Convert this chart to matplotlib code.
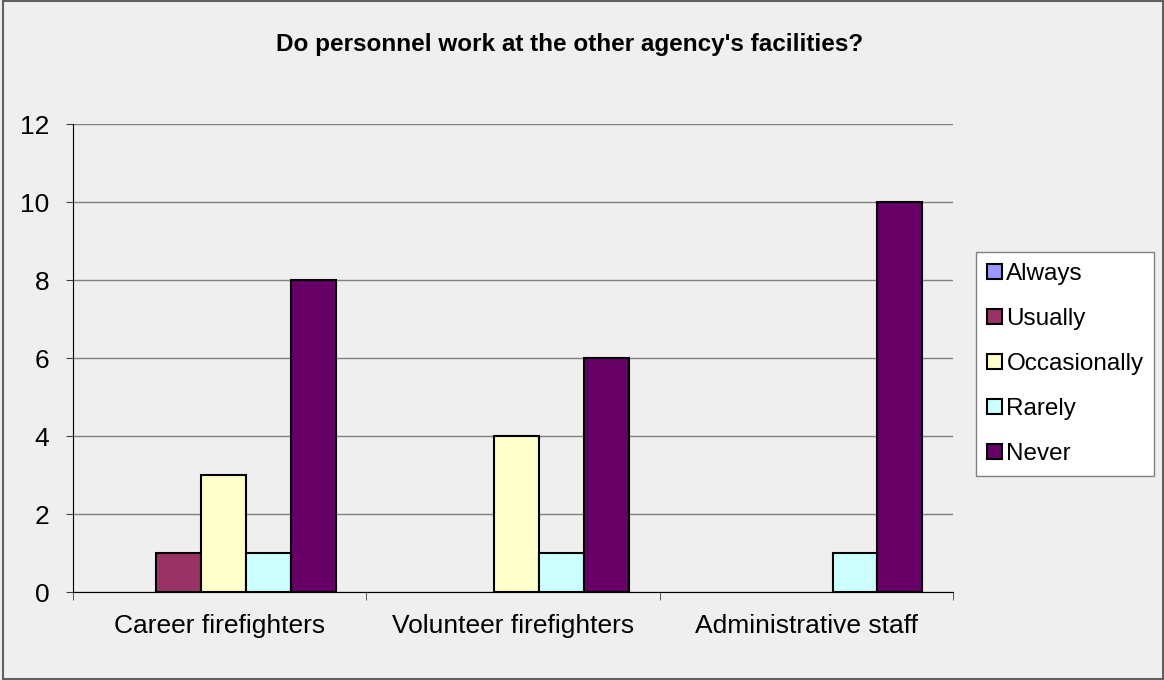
import numpy as np
import matplotlib.pyplot as plt
from matplotlib.patches import Rectangle

# Datos de la encuesta
categories = ["Career firefighters", "Volunteer firefighters", "Administrative staff"]
series = ["Always", "Usually", "Occasionally", "Rarely", "Never"]
always = [0, 0, 0]
usually = [1, 0, 0]
occasionally = [3, 4, 0]
rarely = [1, 1, 1]
never = [8, 6, 10]
colors = ["#9999FF", "#993366", "#FFFFCC", "#CCFFFF", "#660066"]

values = [always, usually, occasionally, rarely, never]
bg = "#EFEFEF"

plt.rcParams['font.family'] = ['Liberation Sans', 'DejaVu Sans']

fig = plt.figure(figsize=(11.64, 6.8), dpi=100, facecolor=bg)
ax = fig.add_axes([73/1164, 1-592/680, 880/1164, 468/680])
ax.set_facecolor(bg)

x = np.arange(len(categories))
w = 0.153
for i, (name, vals, c) in enumerate(zip(series, values, colors)):
    lw = [1.5 if v > 0 else 0 for v in vals]
    ax.bar(x + (i - 2) * w + 0.013, vals, w, color=c, edgecolor="black",
           linewidth=lw, label=name, zorder=3)

ax.set_xlim(-0.5, 2.5)
ax.set_ylim(0, 12)
ax.set_yticks(range(0, 13, 2))
ax.grid(axis="y", color="#808080", linewidth=1, zorder=0)
ax.set_axisbelow(True)

ax.set_xticks(x)
ax.set_xticklabels(categories, fontsize=19)
ax.set_xticks([-0.5, 0.5, 1.5, 2.5], minor=True)
ax.tick_params(axis="x", which="major", length=0, pad=16)
ax.tick_params(axis="x", which="minor", length=6, direction="out", color="#404040")
ax.tick_params(axis="y", labelsize=19, length=5, direction="out", pad=12, color="#404040")

for s in ["top", "right"]:
    ax.spines[s].set_visible(False)
ax.spines["left"].set_color("black")
ax.spines["bottom"].set_color("black")
ax.spines["bottom"].set_zorder(4)

fig.text(0.489, 1-45/680, "Do personnel work at the other agency's facilities?",
         ha="center", va="center", fontsize=17.5, fontweight="bold")

leg = fig.legend(loc="upper left", bbox_to_anchor=(976/1164, 1-252/680),
                 borderaxespad=0, fontsize=17.5, frameon=True, fancybox=False,
                 handlelength=0.6, handleheight=0.6, handletextpad=0.2,
                 labelspacing=0.95, borderpad=0.45)
leg.get_frame().set_edgecolor("#808080")
leg.get_frame().set_facecolor("white")
leg.get_frame().set_linewidth(1)
leg.get_frame().set_alpha(1)
for h in leg.legend_handles:
    h.set_linewidth(1.5)

# borde de la figura
fig.patches.append(Rectangle((0.003, 0.001), 0.996, 0.998, transform=fig.transFigure,
                             fill=False, edgecolor="#606060", linewidth=1.5))

plt.savefig("out.png", facecolor=bg)
